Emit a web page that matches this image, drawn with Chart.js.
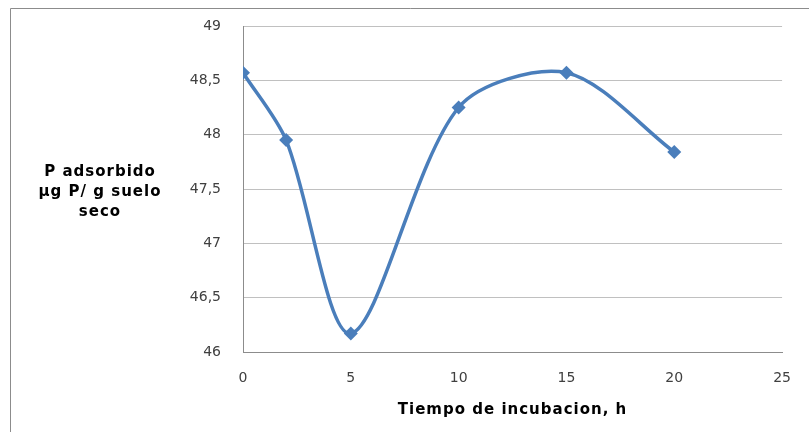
<!DOCTYPE html>
<html>
<head>
<meta charset="utf-8">
<script src="https://cdn.jsdelivr.net/npm/chart.js@4.4.0/dist/chart.umd.min.js"></script>
<style>
  html, body { margin: 0; padding: 0; background: #fff; }
  #wrap { width: 809px; height: 432px; position: relative; }
</style>
</head>
<body>
<div id="wrap"><canvas id="adsorcion"></canvas></div>
<script>
// tiempo de incubacion (h) y P adsorbido
const horas = [0, 2, 5, 10, 15, 20];
const pAdsorbido = [48.57, 47.95, 46.17, 48.25, 48.57, 47.84];
const ticksX = [0, 5, 10, 15, 20, 25];
const ticksY = [46, 46.5, 47, 47.5, 48, 48.5, 49];

const tituloY = ['P adsorbido', 'µg P/ g suelo', 'seco'];
const tituloX = 'Tiempo de incubacion, h';

const azul = '#4a7ebb';
const fuente = '"DejaVu Sans", sans-serif';

// marco + titulos de ejes dibujados a mano (horizontales como en Excel)
const extras = {
    id: 'extras',
    beforeDraw(chart) {
        const ctx = chart.ctx;
        ctx.save();
        ctx.strokeStyle = '#8c8c8c';
        ctx.lineWidth = 1;
        ctx.beginPath();
        ctx.moveTo(10.5, 440);
        ctx.lineTo(10.5, 8.5);
        ctx.lineTo(820, 8.5);
        ctx.stroke();
        ctx.restore();
    },
    afterDraw(chart) {
        const ctx = chart.ctx;
        const area = chart.chartArea;
        ctx.save();
        ctx.fillStyle = '#000';
        ctx.font = 'bold 15px ' + fuente;
        ctx.letterSpacing = '1px';
        ctx.textAlign = 'center';
        ctx.textBaseline = 'middle';
        tituloY.forEach((t, i) => ctx.fillText(t, 100, 172 + i * 20));
        ctx.fillText(tituloX, (area.left + area.right) / 2, 410);
        ctx.restore();
    }
};

new Chart(document.querySelector('#adsorcion'), {
    type: 'scatter',
    data: {
        datasets: [{
            data: horas.map((h, i) => ({ x: h, y: pAdsorbido[i] })),
            showLine: true,
            borderColor: azul,
            backgroundColor: azul,
            borderWidth: 3.5,
            tension: 0.3,
            pointStyle: 'rectRot',
            pointRadius: 7,
            pointBorderWidth: 0,
        }],
    },
    options: {
        responsive: true,
        maintainAspectRatio: false,
        animation: false,
        layout: { padding: { top: 26, right: 26, left: 0, bottom: 0 } },
        plugins: {
            legend: { display: false },
            tooltip: { enabled: false },
        },
        scales: {
            x: {
                type: 'linear',
                min: 0,
                max: 25,
                afterBuildTicks: (s) => { s.ticks = ticksX.map(v => ({ value: v })); },
                afterFit: (s) => { s.height = 80; },
                grid: { display: false, drawTicks: false },
                border: { color: '#8c8c8c', width: 1 },
                ticks: {
                    color: '#404040',
                    font: { family: fuente, size: 14 },
                    padding: 18,
                },
            },
            y: {
                min: 46,
                max: 49,
                afterBuildTicks: (s) => { s.ticks = ticksY.map(v => ({ value: v })); },
                afterFit: (s) => { s.width = 243; s.paddingTop = 0; s.paddingBottom = 0; },
                grid: { color: '#c0c0c0', drawTicks: false },
                border: { color: '#8c8c8c', width: 1 },
                ticks: {
                    color: '#404040',
                    font: { family: fuente, size: 14 },
                    padding: 22,
                    callback: (v) => String(v).replace('.', ','),
                },
            },
        },
    },
    plugins: [extras],
});
</script>
</body>
</html>
